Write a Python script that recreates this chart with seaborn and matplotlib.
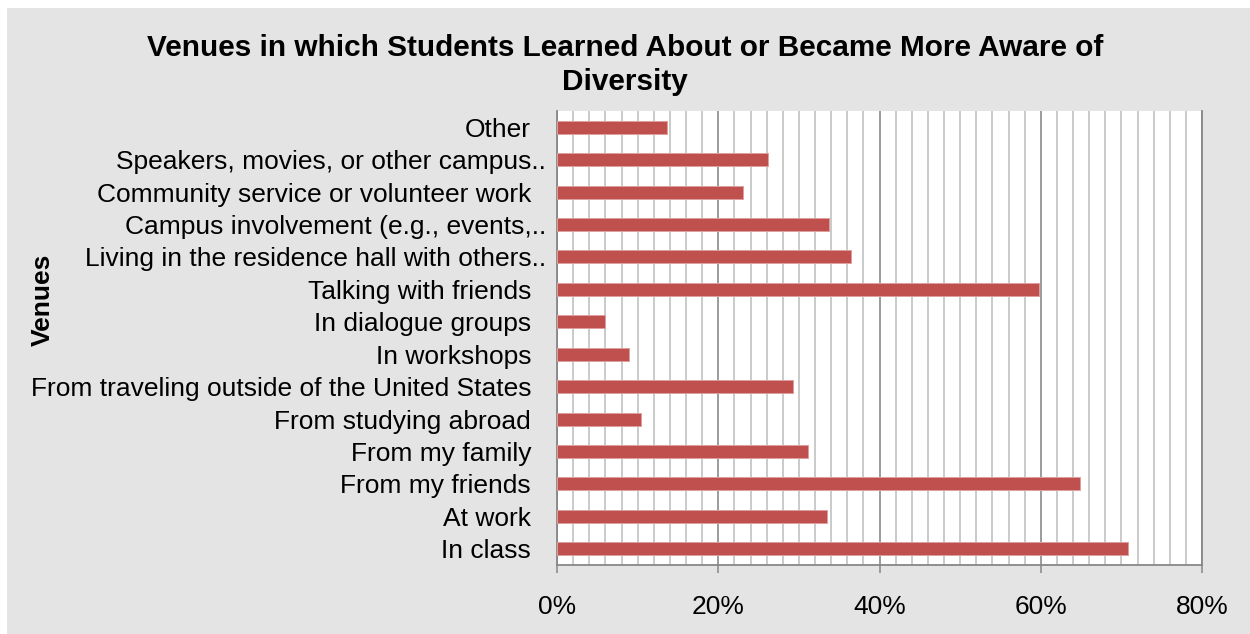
import matplotlib
matplotlib.use("Agg")
import matplotlib.pyplot as plt
import seaborn as sns
import pandas as pd
from matplotlib.ticker import MultipleLocator, FuncFormatter
from matplotlib.patches import Rectangle

# Survey responses: share of students naming each venue (percent)
venues = [
    "Other",
    "Speakers, movies, or other campus..",
    "Community service or volunteer work",
    "Campus involvement (e.g., events,..",
    "Living in the residence hall with others..",
    "Talking with friends",
    "In dialogue groups",
    "In workshops",
    "From traveling outside of the United States",
    "From studying abroad",
    "From my family",
    "From my friends",
    "At work",
    "In class",
]
shares = [13.6, 26.2, 23.1, 33.7, 36.5, 59.8, 6.0, 8.9, 29.3, 10.4, 31.1, 64.9, 33.5, 70.8]

title = "Venues in which Students Learned About or Became More Aware of\nDiversity"
y_title = "Venues"

sns.set_theme(style="white")
plt.rcParams["font.family"] = ["Liberation Sans", "DejaVu Sans"]

W, H = 1250, 634
fig = plt.figure(figsize=(W / 100, H / 100), dpi=100)
fig.patch.set_facecolor("white")
fig.patches.append(Rectangle((7 / W, 0), 1 - 7 / W, 1 - 8 / H, transform=fig.transFigure,
                             facecolor="#e4e4e4", edgecolor="none", zorder=-10))

ax = fig.add_axes([557 / W, 1 - 565 / H, (1202 - 557) / W, (565 - 111) / H])
ax.set_facecolor("white")

df = pd.DataFrame({"venue": venues, "share": shares})
sns.barplot(data=df, x="share", y="venue", orient="h", color="#C0504D", saturation=1,
            width=0.4, edgecolor="#dd9f9d", linewidth=0.7, ax=ax, zorder=3)

ax.set_xlim(0, 80)
ax.set_ylim(13.5, -0.5)
ax.xaxis.set_major_locator(MultipleLocator(20))
ax.xaxis.set_minor_locator(MultipleLocator(2))
ax.xaxis.set_major_formatter(FuncFormatter(lambda v, p: f"{v:.0f}%"))
ax.set_axisbelow(True)
ax.grid(which="minor", axis="x", color="#bcbcbc", linewidth=1.1)
ax.grid(which="major", axis="x", color="#8a8a8a", linewidth=1.2)
ax.grid(axis="y", visible=False)

ax.spines["top"].set_visible(False)
for side in ("left", "bottom", "right"):
    ax.spines[side].set_visible(True)
    ax.spines[side].set_color("#878787")
    ax.spines[side].set_linewidth(1.3)

ax.tick_params(axis="x", which="major", direction="out", length=5.8, width=1.1,
               color="#878787", pad=16, labelsize=19, labelcolor="black", bottom=True)
ax.tick_params(axis="x", which="minor", length=0)
ax.tick_params(axis="y", length=0, labelsize=19, labelcolor="black", left=True)

ax.set_xlabel("")
ax.set_ylabel(y_title, fontsize=19, weight="bold", color="black")
ax.yaxis.set_label_coords(43 / W, 1 - 300 / H, transform=fig.transFigure)
ax.yaxis.label.set_verticalalignment("center")

# truncated labels sit closer to the axis, as their ellipsis runs into the gap
for tick, lab in zip(ax.yaxis.get_major_ticks(), venues):
    tick.set_pad(7.9 if lab.endswith("..") else 18.7)

fig.text(0.5, 1 - 34 / H, title, ha="center", va="top", fontsize=21.4, weight="bold",
         color="black", linespacing=1.26)

fig.savefig("out.png", dpi=100)
